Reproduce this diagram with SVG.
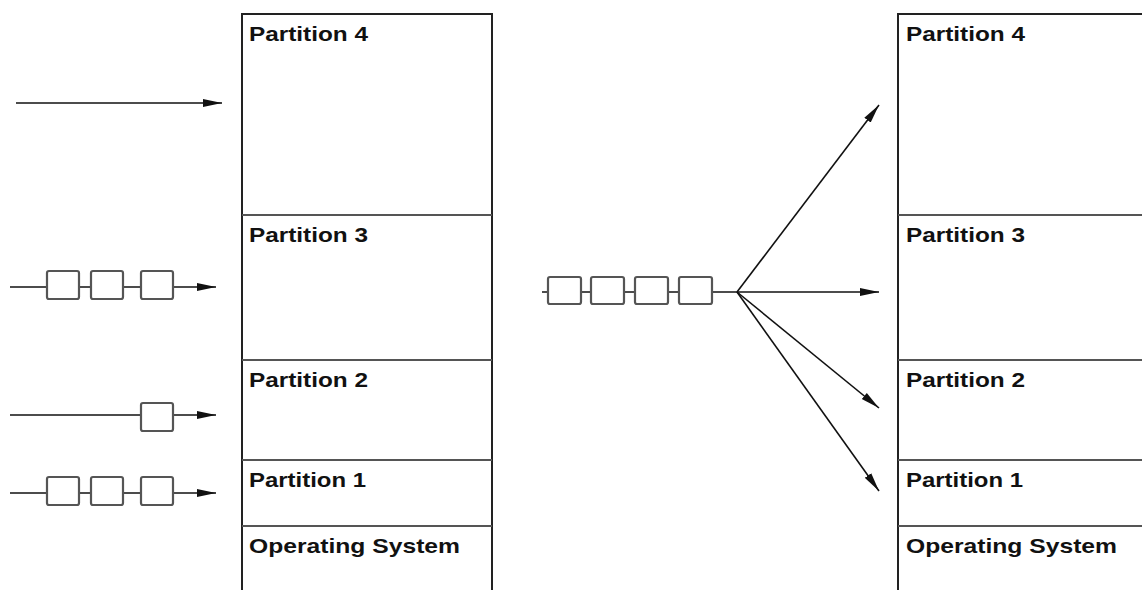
<svg xmlns="http://www.w3.org/2000/svg" width="1142" height="590" viewBox="0 0 1142 590">
  <style>
    .frame { fill: none; stroke: #222; stroke-width: 2; }
    .divider { fill: none; stroke: #555; stroke-width: 2; }
    .label { font-family: "Liberation Sans", Arial, sans-serif; font-weight: bold; font-size: 21px; fill: #111; }
    .wire { fill: none; stroke: #111; stroke-width: 1.6; }
    .job { fill: #fff; stroke: #555; stroke-width: 2.2; }
  </style>
  <defs>
    <marker id="head" markerUnits="userSpaceOnUse" markerWidth="20" markerHeight="10" refX="19" refY="5" orient="auto">
      <path d="M0,1 L19,5 L0,9 Z" fill="#111"/>
    </marker>
  </defs>

  <!-- memory with fixed partitions, one queue per partition -->
  <g id="memory-left">
    <path class="frame" d="M242,590 V14 H492 V590"/>
    <line class="divider" x1="242" y1="215" x2="492" y2="215"/>
    <line class="divider" x1="242" y1="360" x2="492" y2="360"/>
    <line class="divider" x1="242" y1="460" x2="492" y2="460"/>
    <line class="divider" x1="242" y1="526" x2="492" y2="526"/>
    <text class="label" x="249" y="41" textLength="119" lengthAdjust="spacingAndGlyphs">Partition 4</text>
    <text class="label" x="249" y="242" textLength="119" lengthAdjust="spacingAndGlyphs">Partition 3</text>
    <text class="label" x="249" y="387" textLength="119" lengthAdjust="spacingAndGlyphs">Partition 2</text>
    <text class="label" x="249" y="487" textLength="117" lengthAdjust="spacingAndGlyphs">Partition 1</text>
    <text class="label" x="249" y="553" textLength="211" lengthAdjust="spacingAndGlyphs">Operating System</text>
  </g>

  <!-- memory with fixed partitions, single shared queue -->
  <g id="memory-right">
    <path class="frame" d="M898,590 V14 H1144"/>
    <line class="divider" x1="898" y1="215" x2="1144" y2="215"/>
    <line class="divider" x1="898" y1="360" x2="1144" y2="360"/>
    <line class="divider" x1="898" y1="460" x2="1144" y2="460"/>
    <line class="divider" x1="898" y1="526" x2="1144" y2="526"/>
    <text class="label" x="906" y="41" textLength="119" lengthAdjust="spacingAndGlyphs">Partition 4</text>
    <text class="label" x="906" y="242" textLength="119" lengthAdjust="spacingAndGlyphs">Partition 3</text>
    <text class="label" x="906" y="387" textLength="119" lengthAdjust="spacingAndGlyphs">Partition 2</text>
    <text class="label" x="906" y="487" textLength="117" lengthAdjust="spacingAndGlyphs">Partition 1</text>
    <text class="label" x="906" y="553" textLength="211" lengthAdjust="spacingAndGlyphs">Operating System</text>
  </g>

  <!-- input queues -->
  <g id="connectors">
    <line class="wire" x1="16" y1="103" x2="222" y2="103" marker-end="url(#head)"/>
    <line class="wire" x1="10" y1="287" x2="216" y2="287" marker-end="url(#head)"/>
    <line class="wire" x1="10" y1="415" x2="216" y2="415" marker-end="url(#head)"/>
    <line class="wire" x1="10" y1="493" x2="216" y2="493" marker-end="url(#head)"/>
    <line class="wire" x1="542" y1="292" x2="737" y2="292"/>
    <line class="wire" x1="737" y1="292" x2="879" y2="292" marker-end="url(#head)"/>
    <line class="wire" x1="737" y1="292" x2="879" y2="105" marker-end="url(#head)"/>
    <line class="wire" x1="737" y1="292" x2="879" y2="408" marker-end="url(#head)"/>
    <line class="wire" x1="737" y1="292" x2="879" y2="491" marker-end="url(#head)"/>
  </g>

  <g id="queue-partition-3">
    <rect class="job" x="47" y="271" width="32" height="28" rx="2"/>
    <rect class="job" x="91" y="271" width="32" height="28" rx="2"/>
    <rect class="job" x="141" y="271" width="32" height="28" rx="2"/>
  </g>
  <g id="queue-partition-2">
    <rect class="job" x="141" y="403" width="32" height="28" rx="2"/>
  </g>
  <g id="queue-partition-1">
    <rect class="job" x="47" y="477" width="32" height="28" rx="2"/>
    <rect class="job" x="91" y="477" width="32" height="28" rx="2"/>
    <rect class="job" x="141" y="477" width="32" height="28" rx="2"/>
  </g>
  <g id="shared-queue">
    <rect class="job" x="548" y="277" width="33" height="27" rx="2"/>
    <rect class="job" x="591" y="277" width="33" height="27" rx="2"/>
    <rect class="job" x="635" y="277" width="33" height="27" rx="2"/>
    <rect class="job" x="679" y="277" width="33" height="27" rx="2"/>
  </g>
</svg>
